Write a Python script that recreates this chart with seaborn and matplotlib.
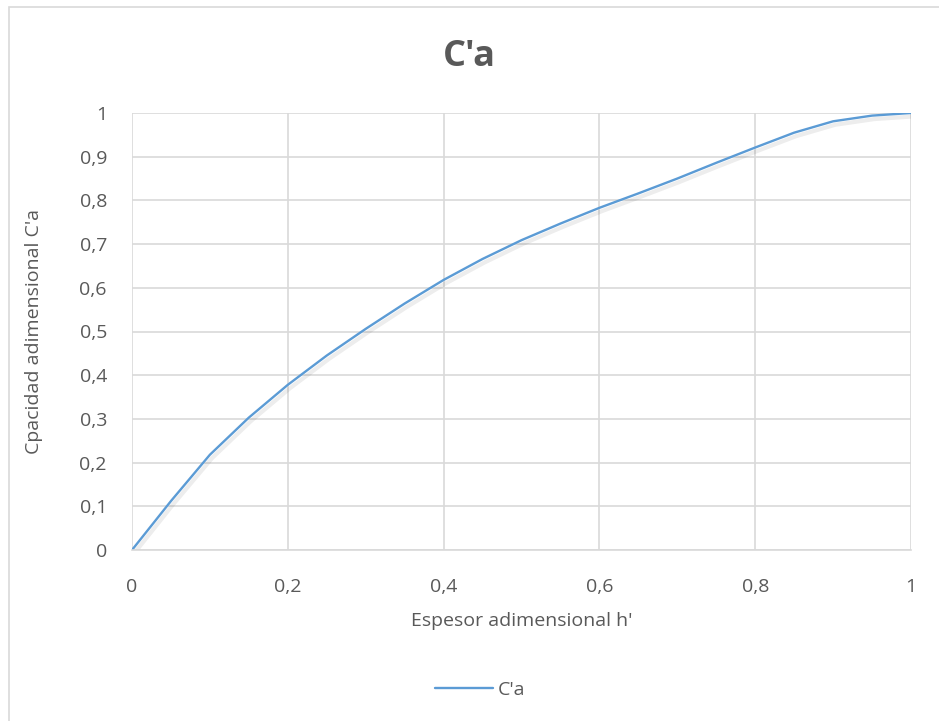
import matplotlib
matplotlib.use("Agg")
import matplotlib.pyplot as plt
import matplotlib.patheffects as pe
from matplotlib.patches import Rectangle
from matplotlib.ticker import FuncFormatter
import seaborn as sns
import pandas as pd

# Datos
espesor = [0.0, 0.05, 0.1, 0.15, 0.2, 0.25, 0.3, 0.35, 0.4, 0.45, 0.5,
           0.55, 0.6, 0.65, 0.7, 0.75, 0.8, 0.85, 0.9, 0.95, 1.0]
capacidad = [0.0, 0.112, 0.218, 0.303, 0.378, 0.445, 0.506, 0.564, 0.618, 0.666, 0.709,
             0.747, 0.783, 0.816, 0.85, 0.886, 0.921, 0.955, 0.981, 0.994, 1.0]
serie = "C'a"

df = pd.DataFrame({"h": espesor, "c": capacidad, "serie": serie})

sns.set_style("white")
plt.rcParams['font.family'] = ['Open Sans', 'DejaVu Sans']

gris_texto = "#595959"
gris_linea = "#D9D9D9"
azul = "#5B9BD5"

fig = plt.figure(figsize=(9.39, 7.21), dpi=100)
ax = fig.add_axes([132 / 939, 1 - 550 / 721, (911 - 132) / 939, (550 - 113) / 721])

sns.lineplot(data=df, x="h", y="c", hue="serie", palette=[azul], ax=ax,
             linewidth=1.7, legend=False,
             path_effects=[pe.SimpleLineShadow(offset=(1.5, -2.5), alpha=0.07, shadow_color="black",
                                               linewidth=3),
                           pe.Normal()])

ax.set_xlim(0, 1)
ax.set_ylim(0, 1)
ax.set_xticks([0, 0.2, 0.4, 0.6, 0.8, 1.0])
ax.set_yticks([i / 10 for i in range(11)])
fmt = FuncFormatter(lambda v, p: ("%g" % round(v, 2)).replace(".", ","))
ax.xaxis.set_major_formatter(fmt)
ax.yaxis.set_major_formatter(fmt)
ax.grid(True, color=gris_linea, linewidth=1.2)
ax.set_axisbelow(True)
for s in ["top", "right", "left"]:
    ax.spines[s].set_visible(False)
ax.spines["bottom"].set_color(gris_linea)
ax.spines["bottom"].set_linewidth(1.2)
ax.tick_params(axis="both", length=0, labelsize=14, labelcolor=gris_texto)
ax.tick_params(axis="x", pad=20)
ax.tick_params(axis="y", pad=18)

ax.set_xlabel("Espesor adimensional h'", fontsize=14, color=gris_texto, labelpad=12)
ax.set_ylabel("Cpacidad adimensional C'a", fontsize=14, color=gris_texto, labelpad=26)

fig.text(0.5, 1 - 57 / 721, serie, ha="center", va="center",
         fontsize=26, fontweight="bold", color=gris_texto)

# Leyenda inferior
leg = ax.legend(handles=[plt.Line2D([], [], color=azul, linewidth=1.7)], labels=[serie],
                loc="center", bbox_to_anchor=(480 / 939, 1 - 690 / 721), bbox_transform=fig.transFigure,
                frameon=False, fontsize=14, handlelength=3.0, handletextpad=0.2)
for t in leg.get_texts():
    t.set_color(gris_texto)

# Borde del área del gráfico
fig.patches.append(Rectangle((9 / 939, -0.05), 1.2, 1 - 7 / 721 + 0.05, transform=fig.transFigure,
                             fill=False, edgecolor=gris_linea, linewidth=1.2, zorder=0))

fig.savefig("out.png", dpi=100)
